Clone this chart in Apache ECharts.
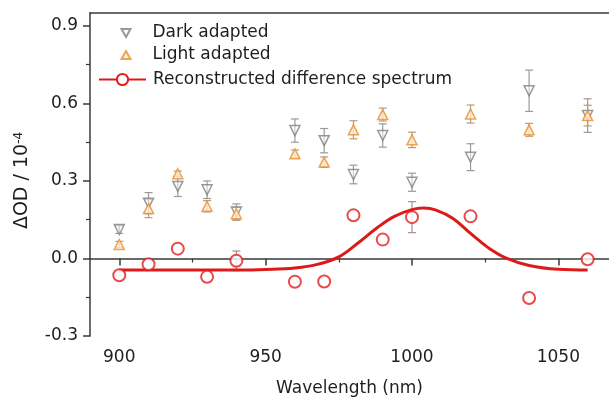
<!DOCTYPE html>
<html>
<head>
<meta charset="utf-8">
<script src="https://cdn.jsdelivr.net/npm/echarts@6/dist/echarts.min.js"></script>
<style>
html,body{margin:0;padding:0;background:#fff;}
#chart{width:609px;height:397px;}
</style>
</head>
<body>
<div id="chart"></div>
<script>
// ---- data ----
const wavelengths = [900, 910, 920, 930, 940, 960, 970, 980, 990, 1000, 1020, 1040, 1060];
const darkValues  = [0.112, 0.214, 0.279, 0.266, 0.180, 0.495, 0.456, 0.325, 0.476, 0.295, 0.392, 0.649, 0.553];
const darkErrors  = [0.015, 0.041, 0.039, 0.034, 0.031, 0.045, 0.047, 0.036, 0.045, 0.035, 0.052, 0.080, 0.065];
const lightValues = [0.054, 0.193, 0.328, 0.202, 0.173, 0.405, 0.373, 0.498, 0.557, 0.459, 0.559, 0.498, 0.553];
const lightErrors = [0.012, 0.035, 0.010, 0.022, 0.025, 0.015, 0.020, 0.035, 0.025, 0.030, 0.035, 0.025, 0.040];
const reconValues = [-0.065, -0.022, 0.038, -0.071, -0.009, -0.090, -0.089, 0.167, 0.073, 0.160, 0.163, -0.153, -0.003];
const reconErrors = [0, 0, 0, 0, 0.038, 0, 0, 0, 0, 0.060, 0, 0, 0];
const fitX = [900, 910, 920, 930, 940, 950, 960, 968, 975, 982, 988, 994, 1000, 1004, 1008, 1014, 1020, 1026, 1032, 1040, 1050, 1060];
const fitY = [-0.045, -0.045, -0.045, -0.045, -0.045, -0.043, -0.037, -0.022, 0.006, 0.064, 0.118, 0.163, 0.189, 0.195, 0.188, 0.155, 0.097, 0.042, 0.002, -0.027, -0.042, -0.045];
const xMajorTicks = [900, 950, 1000, 1050];
const xMinorTicks = [925, 975, 1025];
const yMajorTicks = [-0.3, 0.0, 0.3, 0.6, 0.9];
const yMinorTicks = [-0.15, 0.15, 0.45, 0.75];
const seriesNames = ['Dark adapted', 'Light adapted', 'Reconstructed difference spectrum'];
const xName = 'Wavelength (nm)';
const yName = 'ΔOD / 10{sup|-4}';

const FONT = 'DejaVu Sans, sans-serif';
const FS = 17;
const AXIS_COLOR = '#3a3a3a';
const TEXT_COLOR = '#1e1e1e';

function zip3(xs, ys, es) { return xs.map((x, i) => [x, ys[i], es[i]]); }
function zip2(xs, ys) { return xs.map((x, i) => [x, ys[i]]); }

function errorBarRender(color) {
  return function (params, api) {
    const x = api.value(0), y = api.value(1), e = api.value(2);
    if (!e) return { type: 'group', children: [] };
    const top = api.coord([x, y + e]);
    const bot = api.coord([x, y - e]);
    const hw = 4;
    const style = { stroke: color, lineWidth: 1.2 };
    return {
      type: 'group',
      children: [
        { type: 'line', shape: { x1: top[0], y1: top[1], x2: bot[0], y2: bot[1] }, style },
        { type: 'line', shape: { x1: top[0] - hw, y1: top[1], x2: top[0] + hw, y2: top[1] }, style },
        { type: 'line', shape: { x1: bot[0] - hw, y1: bot[1], x2: bot[0] + hw, y2: bot[1] }, style }
      ]
    };
  };
}

const chart = echarts.init(document.getElementById('chart'), null, { renderer: 'canvas' });

const X_MIN = 890, X_MAX = 1067.3;
const xBase = { type: 'value', min: X_MIN, max: X_MAX, gridIndex: 0, splitLine: { show: false } };
const yBase = { type: 'value', min: -0.3, max: 0.95, gridIndex: 0, position: 'left', splitLine: { show: false } };

const legendText = { fontFamily: FONT, fontSize: FS, color: TEXT_COLOR };

chart.setOption({
  animation: false,
  backgroundColor: '#fff',
  textStyle: { fontFamily: FONT },
  grid: { left: 90, top: 13, right: 0, bottom: 61, show: false, containLabel: false, outerBoundsMode: 'none' },
  legend: [
    { orient: 'vertical', left: 120.5, top: 24.5, padding: 0, itemWidth: 9, itemHeight: 9,
      textStyle: Object.assign({ lineHeight: 9, padding: [0, 0, 0, 17] }, legendText),
      data: [{ name: seriesNames[0], icon: 'path://M0,0 L10,0 L5,9 Z' }] },
    { orient: 'vertical', left: 120.5, top: 46.5, padding: 0, itemWidth: 9, itemHeight: 9,
      textStyle: Object.assign({ lineHeight: 9, padding: [0, 0, 0, 17] }, legendText),
      data: [{ name: seriesNames[1], icon: 'path://M5,0 L10,9 L0,9 Z' }] },
    { orient: 'vertical', left: 98, top: 71, padding: 0, itemWidth: 47, itemHeight: 14,
      textStyle: Object.assign({ lineHeight: 14, padding: [0, 0, 0, 2] }, legendText),
      data: [seriesNames[2]] }
  ],
  xAxis: [
    Object.assign({}, xBase, {
      position: 'bottom',
      name: xName, nameLocation: 'middle', nameGap: 44,
      nameTextStyle: { fontFamily: FONT, fontSize: FS, color: TEXT_COLOR },
      axisLine: { show: true, lineStyle: { color: AXIS_COLOR, width: 1.5 } },
      axisTick: { show: true, inside: false, length: 7, customValues: xMajorTicks, lineStyle: { color: AXIS_COLOR, width: 1.5 } },
      axisLabel: { show: true, margin: 13, customValues: xMajorTicks, fontFamily: FONT, fontSize: FS, color: TEXT_COLOR, formatter: v => String(v) }
    }),
    Object.assign({}, xBase, {
      position: 'bottom',
      axisLine: { show: false },
      axisTick: { show: true, length: 4, customValues: xMinorTicks, lineStyle: { color: AXIS_COLOR, width: 1.2 } },
      axisLabel: { show: false }
    }),
    Object.assign({}, xBase, {
      position: 'top',
      axisLine: { show: true, lineStyle: { color: AXIS_COLOR, width: 1.5 } },
      axisTick: { show: false },
      axisLabel: { show: false }
    })
  ],
  yAxis: [
    Object.assign({}, yBase, {
      name: yName, nameLocation: 'middle', nameGap: 58, nameRotate: 90,
      nameTextStyle: { fontFamily: FONT, fontSize: 19, color: TEXT_COLOR, padding: [0, 12, 0, 0],
        rich: { sup: { fontFamily: FONT, fontSize: 12, color: TEXT_COLOR, verticalAlign: 'top', padding: [0, 0, 6, 0] } } },
      axisLine: { show: true, lineStyle: { color: AXIS_COLOR, width: 1.5 } },
      axisTick: { show: true, length: 7, customValues: yMajorTicks, lineStyle: { color: AXIS_COLOR, width: 1.5 } },
      axisLabel: { show: true, margin: 12, customValues: yMajorTicks, fontFamily: FONT, fontSize: FS, color: TEXT_COLOR, formatter: v => v.toFixed(1) }
    }),
    Object.assign({}, yBase, {
      axisLine: { show: false },
      axisTick: { show: true, length: 4, customValues: yMinorTicks, lineStyle: { color: AXIS_COLOR, width: 1.2 } },
      axisLabel: { show: false }
    })
  ],
  series: [
    { type: 'custom', name: 'darkErr', xAxisIndex: 0, yAxisIndex: 0, z: 1, silent: true,
      renderItem: errorBarRender('#9a9a9a'), data: zip3(wavelengths, darkValues, darkErrors), encode: { x: 0, y: 1 } },
    { type: 'custom', name: 'lightErr', xAxisIndex: 0, yAxisIndex: 0, z: 1, silent: true,
      renderItem: errorBarRender('#b89a80'), data: zip3(wavelengths, lightValues, lightErrors), encode: { x: 0, y: 1 } },
    { type: 'custom', name: 'reconErr', xAxisIndex: 0, yAxisIndex: 0, z: 1, silent: true,
      renderItem: errorBarRender('#a89090'), data: zip3(wavelengths, reconValues, reconErrors), encode: { x: 0, y: 1 } },
    { type: 'line', name: seriesNames[2], xAxisIndex: 0, yAxisIndex: 0, z: 2,
      data: zip2(fitX, fitY), smooth: 0.4, showSymbol: false, symbol: 'circle', symbolSize: 10,
      lineStyle: { color: '#dd1a1a', width: 3 },
      itemStyle: { color: '#fff', borderColor: '#e41e1e', borderWidth: 2 } },
    { type: 'scatter', name: seriesNames[0], xAxisIndex: 0, yAxisIndex: 0, z: 3,
      data: zip2(wavelengths, darkValues), symbol: 'triangle', symbolRotate: 180, symbolSize: 10,
      itemStyle: { color: 'rgba(255,255,255,0.6)', borderColor: '#808080', borderWidth: 1.5 } },
    { type: 'scatter', name: seriesNames[1], xAxisIndex: 0, yAxisIndex: 0, z: 3,
      data: zip2(wavelengths, lightValues), symbol: 'triangle', symbolSize: 10,
      itemStyle: { color: '#fdebd3', borderColor: '#e8902a', borderWidth: 1.5 } },
    { type: 'scatter', name: seriesNames[2], xAxisIndex: 0, yAxisIndex: 0, z: 4,
      data: zip2(wavelengths, reconValues), symbol: 'circle', symbolSize: 12,
      itemStyle: { color: '#fff', borderColor: '#e41e1e', borderWidth: 2 } }
  ]
});
</script>
</body>
</html>
